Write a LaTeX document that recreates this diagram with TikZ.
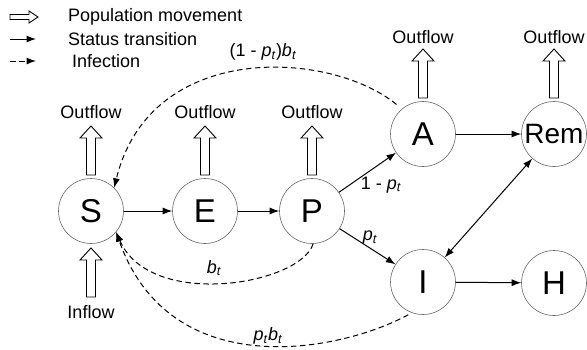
\documentclass[tikz,border=0pt]{standalone}
\usepackage{fontspec}
\setmainfont{Liberation Sans}
\usetikzlibrary{arrows.meta}
\newcommand\mysub[1]{\textsubscript{\textit{#1}}}
\begin{document}
\begin{tikzpicture}[x=1pt,y=-1pt,
  state/.style={circle,draw=black!60,line width=0.6pt,minimum size=65pt,inner sep=0pt,font=\fontsize{33}{33}\selectfont},
  lbl/.style={inner sep=0pt,font=\fontsize{18}{20}\selectfont},
  trans/.style={-{Latex[length=9.5pt,width=7pt]},line width=1pt},
  twoway/.style={{Latex[length=9.5pt,width=7pt]}-{Latex[length=9.5pt,width=7pt]},line width=1pt},
  infect/.style={-{Latex[length=9.5pt,width=7pt]},line width=1pt,dash pattern=on 5.5pt off 3.5pt},
  hollowup/.pic={\draw[line width=0.9pt,fill=white] (-4.5,0) -- (-4.5,-37) -- (-11,-37) -- (0,-49) -- (11,-37) -- (4.5,-37) -- (4.5,0) -- cycle;},
  hollowright/.pic={\draw[line width=0.9pt,fill=white] (0,-2.5) -- (19,-2.5) -- (19,-6) -- (28,0) -- (19,6) -- (19,2.5) -- (0,2.5) -- cycle;}
]
\useasboundingbox[fill=white] (0,0) rectangle (587,349);

% legend
\pic at (10,17) {hollowright};
\node[lbl,anchor=west] (lg1) at (68,17) {Population movement};
\coordinate (l2a) at (10,39);
\coordinate (l2b) at (36,39);
\draw[trans] (l2a) -- (l2b);
\node[lbl,anchor=west] (lg2) at (68,39) {Status transition};
\coordinate (l3a) at (10,61);
\coordinate (l3b) at (36,61);
\draw[infect] (l3a) -- (l3b);
\node[lbl,anchor=west] (lg3) at (72,61) {Infection};

% states
\node[state] (S) at (91,211) {S};
\node[state] (E) at (205,211) {E};
\node[state] (P) at (312,211) {P};
\node[state] (A) at (423,134) {A};
\node[state,font=\fontsize{28}{28}\selectfont] (Rem) at (554,134) {Rem};
\node[state] (I) at (423,282) {I};
\node[state] (H) at (554,283) {H};

% population movement arrows
\pic at (91,175) {hollowup};
\pic at (205,175) {hollowup};
\pic at (312,175) {hollowup};
\pic at (423,98) {hollowup};
\pic at (554,98) {hollowup};
\pic at (91,297) {hollowup};
\node[lbl] (oS) at (91,112) {Outflow};
\node[lbl] (oE) at (205,112) {Outflow};
\node[lbl] (oP) at (312,112) {Outflow};
\node[lbl] (oA) at (423,37) {Outflow};
\node[lbl] (oR) at (554,37) {Outflow};
\node[lbl] (inS) at (91,312) {Inflow};

% status transitions
\draw[trans] (S) -- (E);
\draw[trans] (E) -- (P);
\draw[trans] (P) -- (A);
\draw[trans] (P) -- (I);
\draw[trans] (A) -- (Rem);
\draw[trans] (I) -- (H);
\draw[twoway] (I) -- (Rem);
\node[lbl] (l1p) at (381,185) {1 - \textit{p}\mysub{t}};
\node[lbl] (lp) at (370,238) {\textit{p}\mysub{t}};

% infections
\draw[infect,shorten <=7pt] (A.130) .. controls (330,50) and (150,40) .. (S.45);
\draw[infect] (P.272) .. controls (300,285) and (150,310) .. (S.-40);
\draw[infect,shorten <=4pt] (I.250) .. controls (340,352) and (170,385) .. (S.-40);
\node[lbl] (lab1) at (263,52) {(1 - \textit{p}\mysub{t})\textit{b}\mysub{t}};
\node[lbl] (lab2) at (214,268) {\textit{b}\mysub{t}};
\node[lbl] (lab3) at (268,336) {\textit{p}\mysub{t}\textit{b}\mysub{t}};
\end{tikzpicture}
\end{document}
